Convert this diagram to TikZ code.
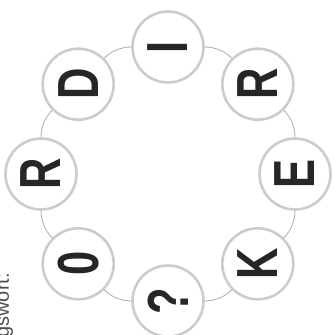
\documentclass[tikz,border=0pt]{standalone}
\usepackage{fontspec}
\setmainfont{Liberation Sans}
\usetikzlibrary{calc}

% schmale Buchstaben
\newcommand{\narrowchar}[1]{\scalebox{0.75}[1]{#1}}

\begin{document}
\begin{tikzpicture}[x=1pt, y=1pt,
    letter/.style={circle, draw=gray!40, line width=2.6pt, fill=white,
                   minimum size=71pt, inner sep=0pt, rotate=90,
                   text=black!85, font=\fontsize{58}{58}\selectfont\bfseries},
    ring/.style={draw=gray!65, line width=0.8pt},
    arc/.style={ring, bend left=22.5, looseness=0.89}]
    \useasboundingbox (0,0) rectangle (334,335);
    \clip (0,0) rectangle (334,335);
    \coordinate (mid) at (168,161);

    % Hinweis am Rand
    \node[rotate=90, anchor=base east, inner sep=0pt, text=black!70,
          font=\fontsize{20}{20}\selectfont] (hint) at (9,62) {Lösungswort:};

    % Buchstaben im Kreis
    \node[letter] (wI)    at ($(mid)+(90:127)$)   {\narrowchar{I}};
    \node[letter] (wR1)   at ($(mid)+(45:127)$)   {\narrowchar{R}};
    \node[letter] (wE)    at ($(mid)+(0:127)$)    {\narrowchar{E}};
    \node[letter] (wK)    at ($(mid)+(-45:127)$)  {\narrowchar{K}};
    \node[letter] (wQ)    at ($(mid)+(-90:127)$)  {\narrowchar{?}};
    \node[letter] (wZero) at ($(mid)+(-135:127)$) {\narrowchar{0}};
    \node[letter] (wR2)   at ($(mid)+(180:127)$)  {\narrowchar{R}};
    \node[letter] (wD)    at ($(mid)+(135:127)$)  {\narrowchar{D}};

    % Kreisbogen
    \draw[arc] (wI) to (wR1);
    \draw[arc] (wR1) to (wE);
    \draw[arc] (wE) to (wK);
    \draw[arc] (wK) to (wQ);
    \draw[arc] (wQ) to (wZero);
    \draw[arc] (wZero) to (wR2);
    \draw[arc] (wR2) to (wD);
    \draw[arc] (wD) to (wI);
\end{tikzpicture}
\end{document}
